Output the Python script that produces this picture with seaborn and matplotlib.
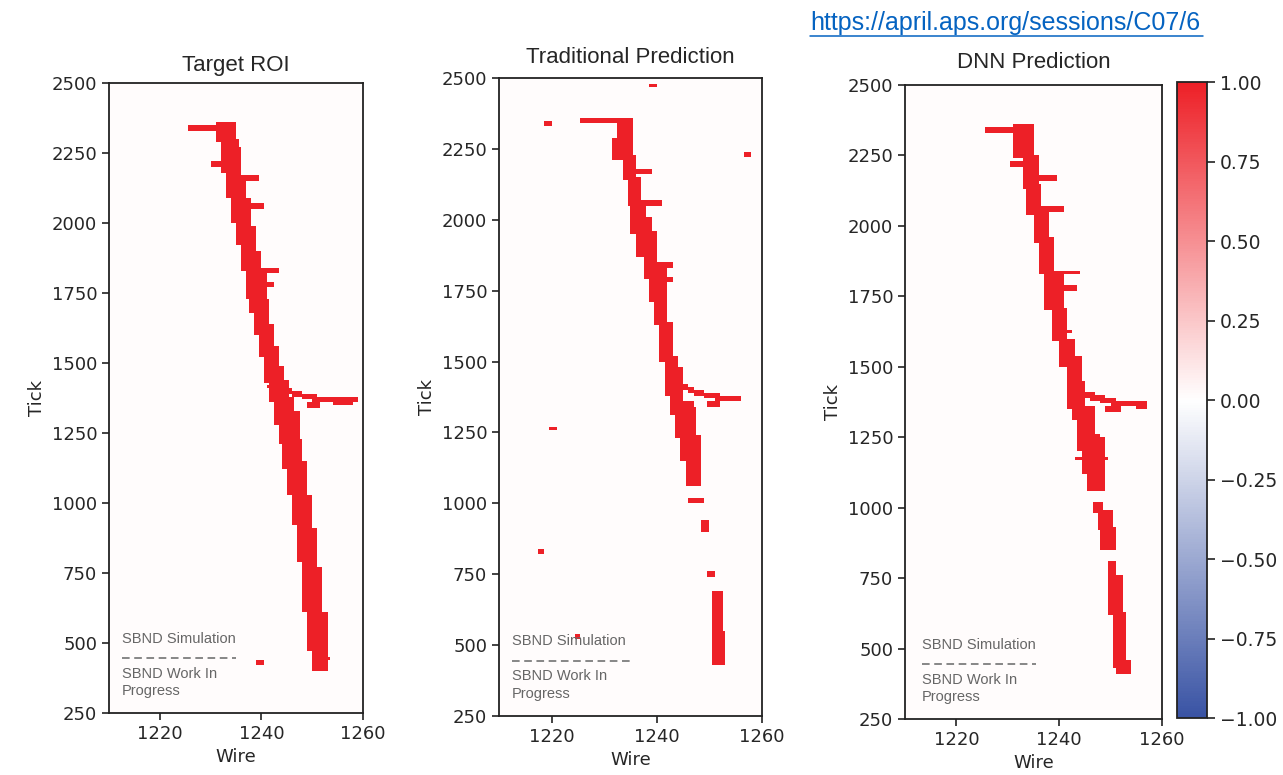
import numpy as np
import pandas as pd
import matplotlib
matplotlib.use("Agg")
import matplotlib.pyplot as plt
import seaborn as sns
from matplotlib.colors import LinearSegmentedColormap
from matplotlib.lines import Line2D

# grid: half-wire columns, rows of 10 ticks, from 2500 down to 250
wires = np.arange(1210, 1260, 0.5)
row_top = np.arange(2500, 250, -10)

x_ticks = [1220, 1240, 1260]
y_ticks = [2500, 2250, 2000, 1750, 1500, 1250, 1000, 750, 500, 250]
cbar_ticks = [-1.0, -0.75, -0.5, -0.25, 0.0, 0.25, 0.5, 0.75, 1.0]

# hit regions: (wire from, wire to, tick low, tick high)
roi_rects = [
    (1231.4, 1234.7, 2291, 2356), (1232.4, 1235.1, 2189, 2291), (1233.4, 1235.9, 2094, 2262),
    (1234.3, 1236.8, 2007, 2160), (1235.3, 1237.8, 1927, 2087), (1236.3, 1238.8, 1839, 1985),
    (1237.3, 1239.8, 1752, 1898), (1237.9, 1240.6, 1680, 1825), (1238.9, 1241.4, 1600, 1723),
    (1239.9, 1242.4, 1520, 1636), (1240.8, 1243.5, 1432, 1556), (1241.8, 1244.5, 1360, 1490),
    (1242.5, 1245.1, 1287, 1432), (1243.5, 1246.1, 1214, 1374), (1244.4, 1247.1, 1127, 1323),
    (1245.4, 1248.0, 1039, 1228), (1246.4, 1248.9, 923, 1141), (1247.4, 1249.7, 792, 1025),
    (1248.3, 1250.7, 617, 909), (1249.3, 1251.8, 479, 763), (1250.3, 1252.7, 406, 603),
    (1225.5, 1232.0, 2335, 2348), (1230.4, 1232.7, 2203, 2213), (1236.3, 1239.5, 2155, 2165),
    (1237.0, 1240.5, 2055, 2065), (1239.0, 1243.5, 1825, 1835), (1239.5, 1242.5, 1777, 1787),
    (1237.3, 1239.0, 1738, 1746), (1241.0, 1244.7, 1410, 1420), (1249.3, 1251.3, 1345, 1355),
    (1252.0, 1253.5, 440, 450), (1239.4, 1240.5, 425, 435),
]
roi_branch_wire = [1244, 1245, 1246, 1247, 1248, 1249, 1250, 1251, 1252, 1253, 1254, 1255, 1256, 1257, 1258]
roi_branch_tick = [1407, 1400, 1393, 1387, 1382, 1378, 1374, 1371, 1369, 1367, 1366, 1366, 1366, 1366, 1367]

trad_rects = [
    (1218.5, 1219.7, 2335, 2345), (1238.6, 1239.6, 2470, 2480), (1256.6, 1257.7, 2222, 2232),
    (1219.5, 1220.6, 1260, 1270), (1217.6, 1218.5, 827, 837), (1224.6, 1225.2, 524, 532),
    (1225.5, 1234.5, 2340, 2352), (1232.5, 1235.1, 2290, 2355), (1231.6, 1235.1, 2235, 2290),
    (1231.6, 1235.7, 2216, 2226), (1233.5, 1235.9, 2148, 2221), (1235.4, 1238.8, 2165, 2175),
    (1234.5, 1236.7, 2053, 2148), (1236.0, 1240.7, 2057, 2067), (1235.4, 1237.9, 1951, 2053),
    (1236.4, 1238.9, 1878, 2002), (1237.5, 1239.9, 1798, 1951), (1238.3, 1242.7, 1833, 1843),
    (1238.6, 1242.7, 1781, 1791), (1238.6, 1241.8, 1717, 1834), (1239.6, 1241.8, 1637, 1717),
    (1240.5, 1243.0, 1506, 1637), (1241.8, 1243.7, 1389, 1520), (1242.7, 1244.9, 1316, 1477),
    (1243.7, 1246.9, 1236, 1360), (1244.6, 1247.5, 1156, 1331), (1245.6, 1248.1, 1061, 1236),
    (1246.4, 1248.8, 1003, 1017), (1248.5, 1249.7, 908, 934), (1249.6, 1250.7, 744, 759),
    (1250.7, 1252.2, 434, 682), (1250.7, 1252.8, 434, 543), (1249.7, 1251.6, 1345, 1355),
]
trad_branch_wire = [1245, 1246, 1247, 1248, 1249, 1250, 1251, 1252, 1253, 1254, 1255]
trad_branch_tick = [1408, 1400, 1393, 1387, 1382, 1378, 1375, 1373, 1371, 1370, 1370]

dnn_rects = [
    (1225.6, 1234.7, 2337, 2349), (1231.4, 1235.0, 2243, 2356), (1230.5, 1233.7, 2211, 2221),
    (1233.0, 1235.6, 2134, 2250), (1235.0, 1239.5, 2165, 2175), (1233.7, 1236.3, 2047, 2149),
    (1235.3, 1240.7, 2058, 2068), (1235.3, 1237.6, 1946, 2047), (1236.3, 1238.9, 1837, 1953),
    (1237.0, 1243.8, 1830, 1840), (1237.3, 1240.8, 1707, 1830), (1238.9, 1243.4, 1779, 1789),
    (1238.9, 1241.5, 1591, 1707), (1240.2, 1242.8, 1504, 1591), (1241.5, 1244.4, 1359, 1533),
    (1242.5, 1245.0, 1315, 1446), (1243.8, 1246.7, 1207, 1359), (1244.7, 1247.6, 1120, 1257),
    (1243.4, 1249.3, 1170, 1180), (1245.7, 1248.6, 1069, 1243), (1246.6, 1248.3, 982, 1018),
    (1247.7, 1250.1, 924, 982), (1248.3, 1250.9, 859, 924), (1249.6, 1250.9, 757, 801),
    (1249.6, 1252.2, 620, 757), (1250.6, 1252.8, 432, 627), (1251.2, 1253.8, 410, 453),
    (1249.3, 1251.9, 1347, 1357), (1239.5, 1242.5, 1620, 1628), (1244.0, 1246.5, 1280, 1288),
]
dnn_branch_wire = [1245, 1246, 1247, 1248, 1249, 1250, 1251, 1252, 1253, 1254, 1255, 1256]
dnn_branch_tick = [1402, 1396, 1390, 1385, 1380, 1376, 1373, 1370, 1368, 1367, 1366, 1366]


def build_grid(rects, branch_wire, branch_tick):
    grid = np.full((len(row_top), len(wires)), 0.015)
    row_low = row_top - 10
    for w0, w1, t0, t1 in rects:
        rows = (row_top > t0) & (row_low < t1)
        cols = (wires + 0.5 > w0) & (wires < w1)
        grid[np.ix_(rows, cols)] = 1.0
    for w, t in zip(branch_wire, branch_tick):
        rows = (row_top > t - 7) & (row_low < t + 7)
        cols = (wires >= w) & (wires < w + 1)
        grid[np.ix_(rows, cols)] = 1.0
    return pd.DataFrame(grid, index=row_top, columns=wires)


sns.set_style("ticks")
cmap = LinearSegmentedColormap.from_list("track", ["#3953a4", "#ffffff", "#ed2027"])

fig = plt.figure(figsize=(12.83, 7.75), dpi=100)
panels = [
    ("Target ROI", roi_rects, roi_branch_wire, roi_branch_tick, [0.0850, 0.0800, 0.1980, 0.8129], 9),
    ("Traditional Prediction", trad_rects, trad_branch_wire, trad_branch_tick,
     [0.3889, 0.0761, 0.2050, 0.8232], 11),
    ("DNN Prediction", dnn_rects, dnn_branch_wire, dnn_branch_tick, [0.7054, 0.0723, 0.2003, 0.8180], 12),
]
cax = fig.add_axes([0.9174, 0.0735, 0.0234, 0.8206])

for i, (title, rects, bw, bt, pos, pad) in enumerate(panels):
    ax = fig.add_axes(pos)
    df = build_grid(rects, bw, bt)
    last = i == len(panels) - 1
    sns.heatmap(df, ax=ax, cmap=cmap, vmin=-1, vmax=1, cbar=last,
                cbar_ax=cax if last else None, xticklabels=False, yticklabels=False)
    for s in ax.spines.values():
        s.set_visible(True)
        s.set_linewidth(1.3)
        s.set_color("#222222")
    ax.set_xticks([(w - 1210) * 2 for w in x_ticks])
    ax.set_xticklabels([str(w) for w in x_ticks], fontsize=13, rotation=0)
    ax.set_yticks([(2500 - t) / 10 for t in y_ticks])
    ax.set_yticklabels([str(t) for t in y_ticks], fontsize=13, rotation=0)
    ax.tick_params(length=5, width=1.2, color="#222222")
    ax.set_xlabel("Wire", fontsize=13)
    ax.set_ylabel("Tick", fontsize=13)
    ax.set_title(title, fontsize=16, family="Liberation Sans", pad=pad)

    x0 = 0.05 if i < 2 else 0.066
    ax.text(x0, 0.117, "SBND Simulation", transform=ax.transAxes, fontsize=10.5,
            color="#666666", family="Liberation Sans", va="center")
    ax.plot([x0, 0.5 if i < 2 else 0.51], [0.087, 0.087], transform=ax.transAxes,
            color="#666666", lw=1.1, ls=(0, (5, 3)))
    ax.text(x0, 0.062, "SBND Work In", transform=ax.transAxes, fontsize=10.5,
            color="#666666", family="Liberation Sans", va="center")
    ax.text(x0, 0.035, "Progress", transform=ax.transAxes, fontsize=10.5,
            color="#666666", family="Liberation Sans", va="center")
    if last:
        cb = ax.collections[0].colorbar

cb.outline.set_visible(True)
cb.outline.set_linewidth(1.3)
cb.outline.set_edgecolor("#222222")
cb.set_ticks(cbar_ticks)
cb.ax.tick_params(labelsize=13.5, length=6, width=1.2, color="#222222")

fig.text(810 / 1283, 1 - 30 / 775, "https://april.aps.org/sessions/C07/6", fontsize=18,
         family="Liberation Sans", color="#0563c1", va="baseline", ha="left")
fig.add_artist(Line2D([810 / 1283, 1203 / 1283], [1 - 36 / 775, 1 - 36 / 775],
                      color="#0563c1", lw=1.1, transform=fig.transFigure))

fig.savefig("out.png", dpi=100)
